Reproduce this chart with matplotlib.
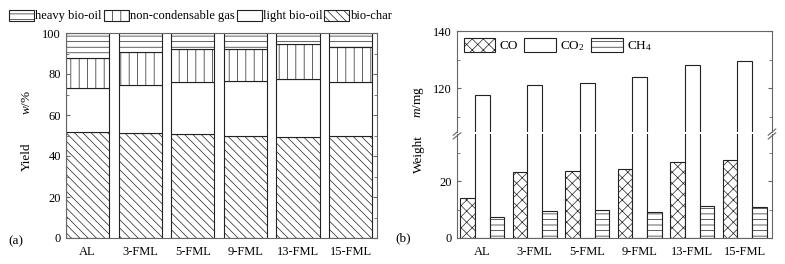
import numpy as np
import matplotlib
matplotlib.use("Agg")
import matplotlib.pyplot as plt
from matplotlib.patches import Patch

plt.rcParams["font.family"] = ["Liberation Serif", "DejaVu Serif"]
plt.rcParams["mathtext.fontset"] = "custom"
plt.rcParams["mathtext.rm"] = "Liberation Serif"
plt.rcParams["mathtext.it"] = "Liberation Serif:italic"
plt.rcParams["font.size"] = 8
plt.rcParams["hatch.linewidth"] = 0.5
plt.rcParams["hatch.color"] = "#333333"

samples = ["AL", "3-FML", "5-FML", "9-FML", "13-FML", "15-FML"]

# panel (a): product yields, w/%
bio_char = [51.6, 51.0, 50.9, 50.0, 49.5, 50.0]
light_oil = [21.8, 23.6, 25.0, 26.4, 28.2, 26.3]
gas = [14.2, 16.0, 16.1, 15.6, 16.8, 17.1]
heavy_oil = [100 - a - b - c for a, b, c in zip(bio_char, light_oil, gas)]

# panel (b): gas weights, m/mg
co = [14.2, 23.3, 23.6, 24.2, 26.7, 27.4]
co2 = [117.7, 121.0, 121.7, 123.8, 128.1, 129.6]
ch4 = [7.3, 9.4, 9.7, 9.0, 11.1, 10.8]

W, H = 785, 264
fig = plt.figure(figsize=(W / 100, H / 100), dpi=100)

def fx(px):
    return px / W

def fy(py):
    return 1 - py / H

edge = "#222222"
spine_c = "#666666"

def style_axis(ax):
    for s in ax.spines.values():
        s.set_color(spine_c)
        s.set_linewidth(0.8)
    ax.tick_params(axis="y", which="both", direction="in", left=True, right=True,
                   color=spine_c, labelsize=9)
    ax.tick_params(axis="y", which="major", length=3)
    ax.tick_params(axis="y", which="minor", length=2)
    ax.tick_params(axis="x", length=0, labelsize=9, pad=6)

# ---------- panel (a)
ax = fig.add_axes([fx(66), fy(238), fx(377 - 66), fy(33) - fy(238)])
x = np.arange(len(samples))
bw = 0.82
b1 = np.array(bio_char)
b2 = b1 + np.array(light_oil)
b3 = b2 + np.array(gas)
ax.bar(x, bio_char, bw, color="white", edgecolor=edge, hatch="\\\\\\\\", lw=0.8)
ax.bar(x, light_oil, bw, bottom=b1, color="white", edgecolor=edge, lw=0.8)
ax.bar(x, gas, bw, bottom=b2, color="white", edgecolor=edge, hatch="||", lw=0.8)
ax.bar(x, heavy_oil, bw, bottom=b3, color="white", edgecolor=edge, hatch="---", lw=0.8)
ax.set_xlim(-0.41, 5.5)
ax.set_ylim(0, 100)
ax.set_yticks(range(0, 101, 20))
ax.set_yticks(range(10, 100, 20), minor=True)
ax.set_xticks(x)
ax.set_xticklabels(samples)
style_axis(ax)

handles_a = [
    Patch(facecolor="white", edgecolor=edge, hatch="---", lw=0.8),
    Patch(facecolor="white", edgecolor=edge, hatch="||", lw=0.8),
    Patch(facecolor="white", edgecolor=edge, lw=0.8),
    Patch(facecolor="white", edgecolor=edge, hatch="\\\\\\\\", lw=0.8),
]
fig.legend(handles_a, ["heavy bio-oil", "non-condensable gas", "light bio-oil", "bio-char"],
           loc="center left", bbox_to_anchor=(fx(9), fy(16)), ncol=4, frameon=False,
           handlelength=2.0, handleheight=1.0, handletextpad=0.1, columnspacing=0.15,
           borderpad=0, borderaxespad=0, fontsize=9)

fig.text(fx(27), fy(157), "Yield", rotation=90, ha="center", va="center", fontsize=9.5)
fig.text(fx(27), fy(102), "$w$/%", rotation=90, ha="center", va="center", fontsize=9.5)
fig.text(fx(16), fy(241), "(a)", ha="center", va="center", fontsize=9.5)

# ---------- panel (b): broken axis
brk = 133
left, right = 457, 772
axb = fig.add_axes([fx(left), fy(238), fx(right - left), fy(brk + 1) - fy(238)])
axt = fig.add_axes([fx(left), fy(brk - 1), fx(right - left), fy(31) - fy(brk - 1)])
gw = 0.84 / 3
for a in (axb, axt):
    a.bar(x - gw, co, gw, color="white", edgecolor=edge, hatch="xxx", lw=0.8, label="CO")
    a.bar(x, co2, gw, color="white", edgecolor=edge, lw=0.8, label="CO$_2$")
    a.bar(x + gw, ch4, gw, color="white", edgecolor=edge, hatch="---", lw=0.8, label="CH$_4$")
    a.set_xlim(-0.48, 5.52)
    style_axis(a)
axb.set_ylim(0, 36.5)
axt.set_ylim(104.6, 140)
axb.set_yticks([0, 20])
axb.set_yticks([10, 30], minor=True)
axt.set_yticks([120, 140])
axt.set_yticks([110, 130], minor=True)
axb.set_xticks(x)
axb.set_xticklabels(samples)
axt.set_xticks([])
axb.spines["top"].set_visible(False)
axt.spines["bottom"].set_visible(False)

# break marks
d = 0.012
for xx in (0, 1):
    for off in (-0.006, 0.006):
        axb.plot([xx - d, xx + d], [1 - 0.03 + off * 3, 1 + 0.03 + off * 3],
                 transform=axb.transAxes, color=spine_c, lw=0.8, clip_on=False)

axt.legend(loc="upper left", ncol=3, frameon=False, handlelength=2.4, handleheight=1.3,
           handletextpad=0.3, columnspacing=0.5, borderaxespad=0.1, fontsize=9.5)

fig.text(fx(419), fy(154), "Weight", rotation=90, ha="center", va="center", fontsize=9.5)
fig.text(fx(419), fy(102), "$m$/mg", rotation=90, ha="center", va="center", fontsize=9.5)
fig.text(fx(403), fy(238), "(b)", ha="center", va="center", fontsize=9.5)

fig.savefig("out.png", dpi=100)
